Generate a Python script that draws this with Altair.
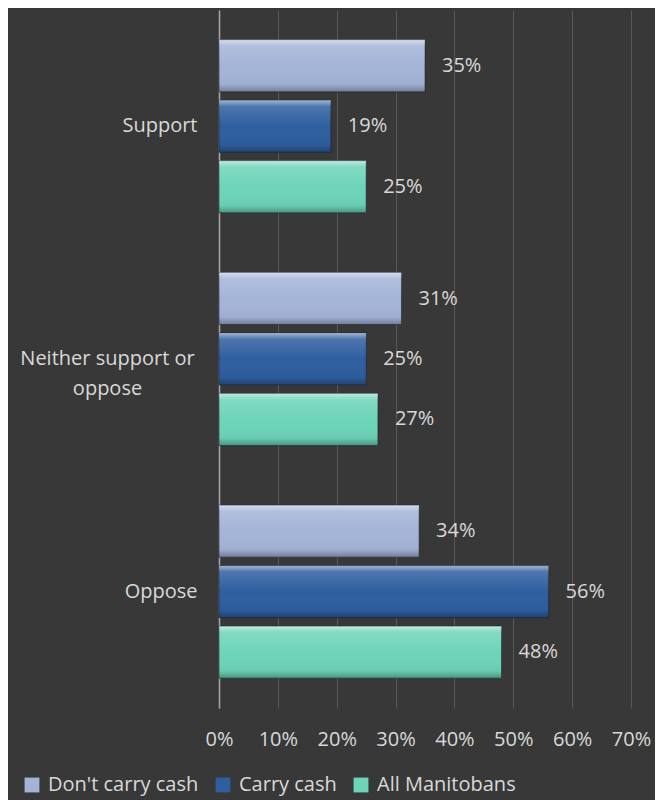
import altair as alt
import pandas as pd

categories = ["Support", "Neither support or oppose", "Oppose"]
series = ["Don't carry cash", "Carry cash", "All Manitobans"]
dont_carry = [35, 31, 34]
carry = [19, 25, 56]
all_manitobans = [25, 27, 48]
colors = ["#a4b4d8", "#2f5e9f", "#6dd4b9"]
x_ticks = [0, 10, 20, 30, 40, 50, 60, 70]

rows = []
for i, c in enumerate(categories):
    for s, vals in zip(series, [dont_carry, carry, all_manitobans]):
        rows.append({"category": c, "series": s, "value": vals[i], "label": f"{vals[i]}%"})
df = pd.DataFrame(rows)

FONT = "Open Sans"
TXT = "#d9d9d9"
FS = 20
MULTI = "datum.value == 'Neither support or oppose'"

y_enc = alt.Y(
    "category:N",
    sort=categories,
    scale=alt.Scale(domain=categories, paddingInner=0.22, paddingOuter=0.11),
    axis=alt.Axis(
        title=None, domain=True, domainColor="#a6a6a6", domainWidth=1.5,
        ticks=False, tickSize=0, labelFontSize=FS,
        labelColor=TXT, labelFont=FONT, labelLimit=260, labelLineHeight=30,
        grid=False,
        labelAlign={"condition": {"test": MULTI, "value": "center"}, "value": "right"},
        labelPadding={"condition": {"test": MULTI, "value": 112}, "value": 22},
        labelExpr=f"{MULTI} ? ['Neither support or', 'oppose'] : datum.value",
    ),
)
yoff_enc = alt.YOffset(
    "series:N", sort=series,
    scale=alt.Scale(domain=series, paddingInner=0.14, paddingOuter=0.07),
)
x_enc = alt.X(
    "value:Q",
    scale=alt.Scale(domain=[0, 70], nice=False),
    axis=alt.Axis(
        values=x_ticks, labelExpr="datum.value + '%'", grid=True,
        gridColor="#585858", gridWidth=1, domain=False, ticks=False, tickSize=0,
        labelPadding=21, labelFontSize=FS, labelColor=TXT, labelFont=FONT,
        labelFlush=False, title=None,
    ),
)

base = alt.Chart(df)

bars = base.mark_bar(stroke="#1a2230", strokeWidth=0.8, strokeOpacity=0.7).encode(
    x=x_enc, y=y_enc, yOffset=yoff_enc,
    color=alt.Color(
        "series:N", sort=series,
        scale=alt.Scale(domain=series, range=colors),
        legend=alt.Legend(
            title=None, orient="none", legendX=-197, legendY=765,
            direction="horizontal", symbolType="square", symbolSize=220,
            symbolStrokeWidth=0, labelFontSize=FS, labelColor=TXT, labelFont=FONT,
            columnPadding=14, labelOffset=6, labelLimit=300,
        ),
    ),
)

shine = base.mark_bar(
    fill=alt.Gradient(
        gradient="linear", x1=0, x2=0, y1=0, y2=1,
        stops=[
            alt.GradientStop(offset=0, color="rgba(255,255,255,0.55)"),
            alt.GradientStop(offset=0.12, color="rgba(255,255,255,0.15)"),
            alt.GradientStop(offset=0.5, color="rgba(255,255,255,0)"),
            alt.GradientStop(offset=0.86, color="rgba(0,0,0,0.04)"),
            alt.GradientStop(offset=1, color="rgba(0,0,0,0.3)"),
        ],
    )
).encode(x=x_enc, y=y_enc, yOffset=yoff_enc)

labels = base.mark_text(
    align="left", baseline="middle", dx=17, fontSize=FS, font=FONT, color=TXT
).encode(x=x_enc, y=y_enc, yOffset=yoff_enc, text="label:N")

chart = (
    alt.layer(bars, shine, labels)
    .properties(
        width=412, height=698,
        autosize=alt.AutoSizeParams(type="none"),
        padding={"left": 211, "top": 2, "right": 24, "bottom": 92},
        background="#383838",
    )
    .configure_view(stroke=None)
)

chart.save("out.html", embed_options={"renderer": "svg", "actions": False})
